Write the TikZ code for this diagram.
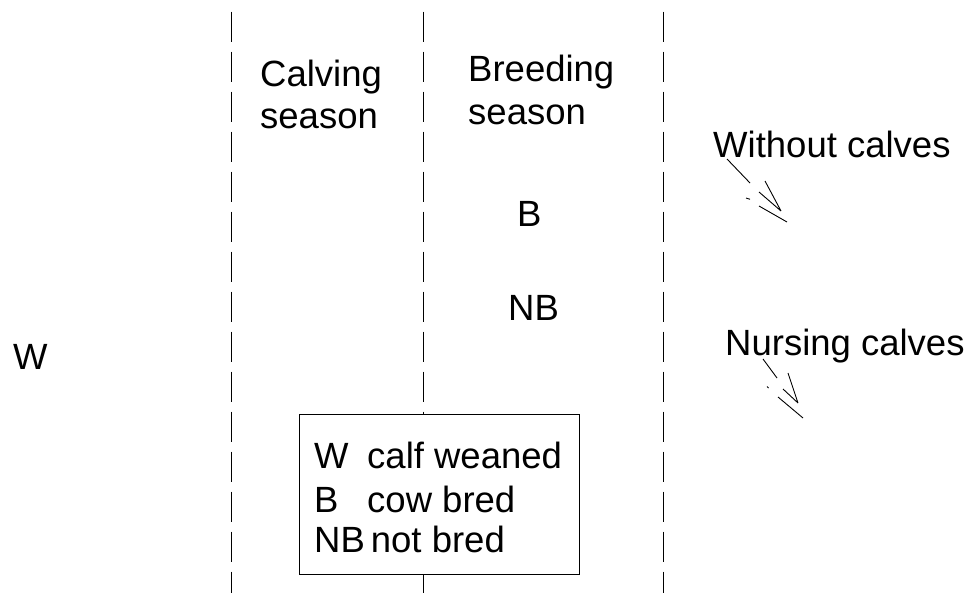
\documentclass[tikz,border=0pt]{standalone}
\usepackage{fontspec}
\setmainfont{Liberation Sans}
\tikzset{
	lbl/.style={anchor=base west, inner sep=0pt, font=\fontsize{36.5}{43}\selectfont},
	divider/.style={line width=1pt, dash pattern=on 30pt off 10pt},
	pointer/.style={line width=0.9pt},
}
\begin{document}
\begin{tikzpicture}[x=1pt, y=-1pt]
	\useasboundingbox (0,0) rectangle (973,593);
	% Season dividers:
	\draw[divider] (231,11.7) -- (231,593);
	\draw[divider] (423,11.7) -- (423,593);
	\draw[divider] (663,11.7) -- (663,593);
	% Season titles:
	\node[lbl] (calving) at (260,87) {Calving};
	\node[lbl] (calvingS) at (260,129) {season};
	\node[lbl] (breeding) at (468,82) {Breeding};
	\node[lbl] (breedingS) at (468,125) {season};
	% Outcomes:
	\node[lbl] (w) at (13,369) {W};
	\node[lbl] (b) at (517,227) {B};
	\node[lbl] (nb) at (508,320) {NB};
	\node[lbl] (without) at (713,158) {Without calves};
	\node[lbl] (nursing) at (725,355) {Nursing calves};
	% Pointers:
	\draw[pointer] (727,159) -- (750,183) (746,198) -- (750,199.3);
	\draw[pointer] (765,181) -- (781,211) (759,192) -- (781,211) (759,206) -- (787,222);
	\draw[pointer] (763,359) -- (777,378) (767,386.5) -- (768.5,388);
	\draw[pointer] (788,373) -- (798,403) (783,389) -- (798,403) (778,397) -- (803,418);
	% Key:
	\node[draw, fill=white, line width=1.3pt, anchor=north west, minimum width=280pt, minimum height=160pt, inner sep=0pt] (key) at (299,414) {};
	\node[lbl] (keyW) at (314,468) {W};
	\node[lbl] (keyB) at (314,512) {B};
	\node[lbl] (keyWt) at (367,468) {calf weaned};
	\node[lbl] (keyBt) at (367,512) {cow bred};
	\node[lbl] (keyNB) at (314,552) {NB\hspace{6pt}not bred};
\end{tikzpicture}
\end{document}
